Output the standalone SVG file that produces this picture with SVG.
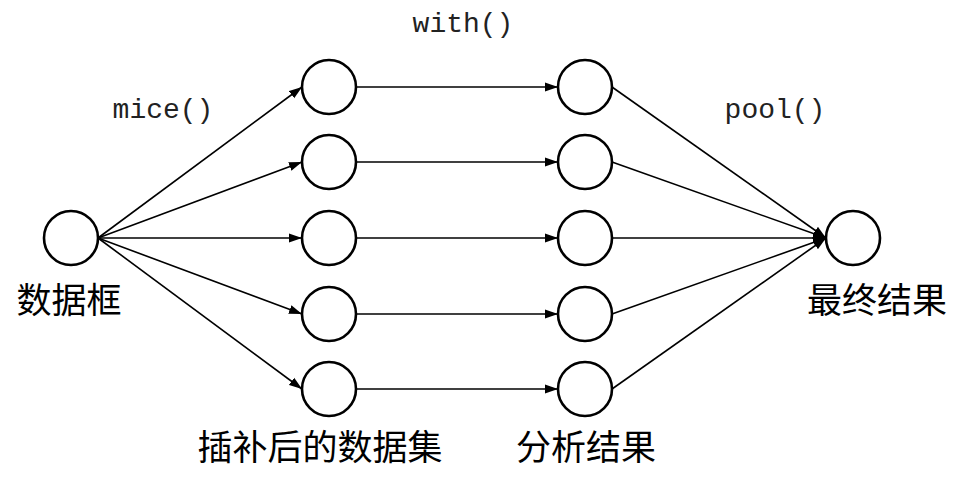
<svg xmlns="http://www.w3.org/2000/svg" width="954" height="492" viewBox="0 0 954 492">
  <defs>
    <marker id="arrow" markerUnits="userSpaceOnUse" markerWidth="14" markerHeight="10" viewBox="0 0 14 10" refX="13" refY="5" orient="auto">
      <path d="M0,0.5 L13,5 L0,9.5 Z" fill="#000"/>
    </marker>
  </defs>
  <style>
    .node { fill: #fff; stroke: #000; stroke-width: 2.6; }
    .edge { stroke: #000; stroke-width: 1.6; fill: none; marker-end: url(#arrow); }
    .fn { font-family: "Liberation Mono", "Courier New", monospace; font-size: 28px; fill: #222; }
    .cn { font-family: "Noto Sans CJK SC", "Noto Sans", sans-serif; font-size: 35px; fill: #000; }
  </style>
  <rect width="954" height="492" fill="#fff"/>

  <!-- connectors -->
  <g id="edges">
    <!-- data frame to imputed sets -->
    <line class="edge" x1="98" y1="238" x2="302" y2="87"/>
    <line class="edge" x1="98" y1="238" x2="302" y2="162"/>
    <line class="edge" x1="98" y1="238" x2="302" y2="238"/>
    <line class="edge" x1="98" y1="238" x2="302" y2="314"/>
    <line class="edge" x1="98" y1="238" x2="302" y2="389"/>
    <!-- imputed sets to analysis results -->
    <line class="edge" x1="356" y1="87" x2="558" y2="87"/>
    <line class="edge" x1="356" y1="162" x2="558" y2="162"/>
    <line class="edge" x1="356" y1="238" x2="558" y2="238"/>
    <line class="edge" x1="356" y1="314" x2="558" y2="314"/>
    <line class="edge" x1="356" y1="389" x2="558" y2="389"/>
    <!-- analysis results to pooled result -->
    <line class="edge" x1="612" y1="87" x2="826" y2="238"/>
    <line class="edge" x1="612" y1="162" x2="826" y2="238"/>
    <line class="edge" x1="612" y1="238" x2="826" y2="238"/>
    <line class="edge" x1="612" y1="314" x2="826" y2="238"/>
    <line class="edge" x1="612" y1="389" x2="826" y2="238"/>
  </g>

  <g id="data-frame">
    <circle class="node" cx="71" cy="238" r="27"/>
    <text class="cn" x="69" y="313" text-anchor="middle">数据框</text>
  </g>

  <g id="imputed">
    <circle class="node" cx="329" cy="87" r="27"/>
    <circle class="node" cx="329" cy="162" r="27"/>
    <circle class="node" cx="329" cy="238" r="27"/>
    <circle class="node" cx="329" cy="314" r="27"/>
    <circle class="node" cx="329" cy="389" r="27"/>
    <text class="cn" x="320" y="460" text-anchor="middle">插补后的数据集</text>
  </g>

  <g id="analysis">
    <circle class="node" cx="585" cy="87" r="27"/>
    <circle class="node" cx="585" cy="162" r="27"/>
    <circle class="node" cx="585" cy="238" r="27"/>
    <circle class="node" cx="585" cy="314" r="27"/>
    <circle class="node" cx="585" cy="389" r="27"/>
    <text class="cn" x="586" y="460" text-anchor="middle">分析结果</text>
  </g>

  <g id="final">
    <circle class="node" cx="853" cy="238" r="27"/>
    <text class="cn" x="877" y="313" text-anchor="middle">最终结果</text>
  </g>

  <g id="labels">
    <text class="fn" x="163" y="118" text-anchor="middle">mice()</text>
    <text class="fn" x="463" y="32" text-anchor="middle">with()</text>
    <text class="fn" x="775" y="118" text-anchor="middle">pool()</text>
  </g>
</svg>
